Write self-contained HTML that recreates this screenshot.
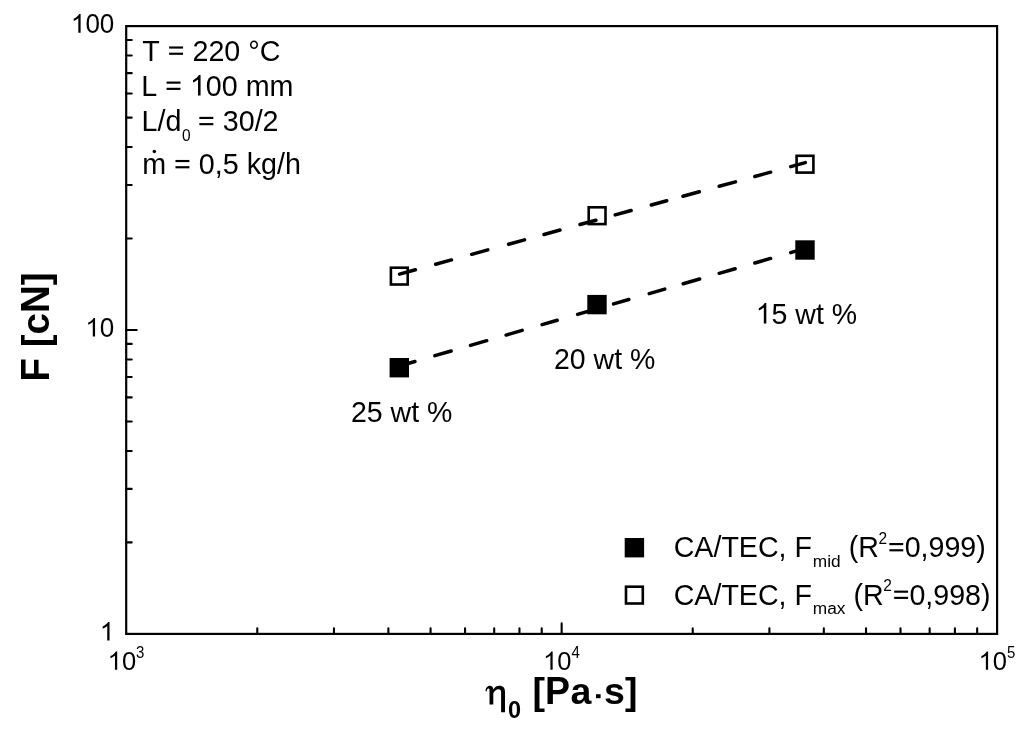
<!DOCTYPE html>
<html><head><meta charset="utf-8"><style>
html,body{margin:0;padding:0;background:#fff;width:1024px;height:733px;overflow:hidden}
svg{display:block;will-change:transform}
text{font-family:"Liberation Sans",sans-serif;fill:#000;font-kerning:none;white-space:pre}
</style></head><body>
<svg width="1024" height="733" viewBox="0 0 1024 733">
<rect width="1024" height="733" fill="#fff"/>
<rect x="126.2" y="26.1" width="870.90" height="607.80" fill="none" stroke="#000" stroke-width="2.2"/>
<path d="M257.28 633.90V628.40M333.96 633.90V628.40M388.37 633.90V628.40M430.57 633.90V628.40M465.05 633.90V628.40M494.20 633.90V628.40M519.45 633.90V628.40M541.72 633.90V628.40M561.65 633.90V623.40M692.73 633.90V628.40M769.41 633.90V628.40M823.82 633.90V628.40M866.02 633.90V628.40M900.50 633.90V628.40M929.65 633.90V628.40M954.90 633.90V628.40M977.17 633.90V628.40M126.20 542.42H131.70M126.20 488.90H131.70M126.20 450.93H131.70M126.20 421.48H131.70M126.20 397.42H131.70M126.20 377.07H131.70M126.20 359.45H131.70M126.20 343.91H131.70M126.20 330.00H136.70M126.20 238.52H131.70M126.20 185.00H131.70M126.20 147.03H131.70M126.20 117.58H131.70M126.20 93.52H131.70M126.20 73.17H131.70M126.20 55.55H131.70M126.20 40.01H131.70" stroke="#000" stroke-width="2.1" stroke-linecap="round" fill="none"/>
<path d="M399.60 274.15L415.40 269.81M435.70 264.23L451.40 259.92M471.70 254.33L487.80 249.91M508.60 244.19L524.50 239.82M544.00 234.46L560.00 230.06M580.00 224.56L595.90 220.19M615.20 214.89L631.10 210.52M651.30 204.96L666.70 200.73M683.00 196.25L699.30 191.77M719.20 186.30L735.50 181.82M754.80 176.51L770.60 172.17M790.70 166.64L805.30 162.63" stroke="#000" stroke-width="3.5" stroke-linecap="round" fill="none"/><path d="M399.30 366.00L414.90 361.48M434.90 355.69L451.10 350.99M470.50 345.37L486.70 340.68M506.10 335.06L522.20 330.40M542.10 324.63L557.20 320.26M577.60 314.35L596.90 308.76M613.60 303.92L628.80 299.51M649.20 293.60L664.70 289.11M683.20 283.75L699.60 279.00M719.20 273.32L735.10 268.72M754.80 263.01L770.60 258.43M790.70 252.61L805.10 248.44" stroke="#000" stroke-width="3.5" stroke-linecap="round" fill="none"/>
<rect x="390.90" y="267.70" width="16.80" height="16.80" fill="none" stroke="#000" stroke-width="2.6"/><rect x="588.70" y="207.30" width="16.80" height="16.80" fill="none" stroke="#000" stroke-width="2.6"/><rect x="796.60" y="155.80" width="16.80" height="16.80" fill="none" stroke="#000" stroke-width="2.6"/><rect x="389.60" y="358.00" width="19.40" height="19.40" fill="#000"/><rect x="587.30" y="294.90" width="19.40" height="19.40" fill="#000"/><rect x="795.30" y="240.30" width="19.40" height="19.40" fill="#000"/>
<path transform="translate(70.92 32.70) scale(0.01270 -0.01270)" d="M763 0H583V1147Q518 1085 412.5 1023Q307 961 223 930V1104Q374 1175 487 1276Q600 1377 647 1466H763Z"/><text transform="translate(85.38 32.70) scale(1 1.04)" font-size="26" >00</text>
<path transform="translate(85.38 336.60) scale(0.01270 -0.01270)" d="M763 0H583V1147Q518 1085 412.5 1023Q307 961 223 930V1104Q374 1175 487 1276Q600 1377 647 1466H763Z"/><text transform="translate(99.84 336.60) scale(1 1.04)" font-size="26" >0</text>
<path transform="translate(99.84 640.50) scale(0.01270 -0.01270)" d="M763 0H583V1147Q518 1085 412.5 1023Q307 961 223 930V1104Q374 1175 487 1276Q600 1377 647 1466H763Z"/>
<path transform="translate(107.70 669.80) scale(0.01245 -0.01245)" d="M763 0H583V1147Q518 1085 412.5 1023Q307 961 223 930V1104Q374 1175 487 1276Q600 1377 647 1466H763Z"/><text transform="translate(121.88 669.80) scale(1 1.04)" font-size="25.5" >0</text>
<text transform="translate(136.06 658.20) scale(1 1.04)" font-size="15" >3</text>
<path transform="translate(543.15 669.80) scale(0.01245 -0.01245)" d="M763 0H583V1147Q518 1085 412.5 1023Q307 961 223 930V1104Q374 1175 487 1276Q600 1377 647 1466H763Z"/><text transform="translate(557.33 669.80) scale(1 1.04)" font-size="25.5" >0</text>
<text transform="translate(571.51 658.20) scale(1 1.04)" font-size="15" >4</text>
<path transform="translate(978.60 669.80) scale(0.01245 -0.01245)" d="M763 0H583V1147Q518 1085 412.5 1023Q307 961 223 930V1104Q374 1175 487 1276Q600 1377 647 1466H763Z"/><text transform="translate(992.78 669.80) scale(1 1.04)" font-size="25.5" >0</text>
<text transform="translate(1006.96 658.20) scale(1 1.04)" font-size="15" >5</text>
<text transform="translate(142.20 60.50) scale(1 1.04)" font-size="28.7" >T</text><rect x="169.11" y="46.45" width="13.94" height="2.15"/><rect x="169.11" y="52.68" width="13.94" height="2.15"/><text transform="translate(192.44 60.50) scale(1 1.04)" font-size="28.7" >220</text><text x="240.32" y="60.50" font-size="28.7" > °</text><text transform="translate(259.77 60.50) scale(1 1.04)" font-size="28.7" >C</text>
<text transform="translate(141.20 95.60) scale(1 1.04)" font-size="28.7" >L</text><rect x="166.54" y="81.55" width="13.94" height="2.15"/><rect x="166.54" y="87.78" width="13.94" height="2.15"/><path transform="translate(189.87 95.60) scale(0.01401 -0.01401)" d="M763 0H583V1147Q518 1085 412.5 1023Q307 961 223 930V1104Q374 1175 487 1276Q600 1377 647 1466H763Z"/><text transform="translate(205.83 95.60) scale(1 1.04)" font-size="28.7" >00</text><text x="237.75" y="95.60" font-size="28.7" > mm</text>
<text transform="translate(141.50 130.90) scale(1 1.04)" font-size="28.7" >L</text><text x="157.46" y="130.90" font-size="28.7" >/d</text>
<text transform="translate(182.10 141.20) scale(1 1.04)" font-size="15.5" >0</text>
<rect x="199.37" y="116.85" width="13.94" height="2.15"/><rect x="199.37" y="123.08" width="13.94" height="2.15"/><text transform="translate(222.70 130.90) scale(1 1.04)" font-size="28.7" >30</text><text x="254.63" y="130.90" font-size="28.7" >/</text><text transform="translate(262.60 130.90) scale(1 1.04)" font-size="28.7" >2</text>
<text x="142.20" y="174.00" font-size="28.7" >m </text><rect x="175.48" y="159.95" width="13.94" height="2.15"/><rect x="175.48" y="166.18" width="13.94" height="2.15"/><text transform="translate(198.82 174.00) scale(1 1.04)" font-size="28.7" >0</text><text x="214.78" y="174.00" font-size="28.7" >,</text><text transform="translate(222.75 174.00) scale(1 1.04)" font-size="28.7" >5</text><text x="238.71" y="174.00" font-size="28.7" > kg/h</text>
<circle cx="154.3" cy="151.4" r="1.75"/>
<text transform="translate(351.00 421.50) scale(1 1.04)" font-size="28.5" >25</text><text x="382.70" y="421.50" font-size="28.5" > w</text><text transform="translate(411.20 421.50) scale(1 1.04)" font-size="28.5" >t</text><text transform="translate(427.04 421.50) scale(1 1.04)" font-size="28.5" >%</text>
<text transform="translate(554.00 369.30) scale(1 1.04)" font-size="28.5" >20</text><text x="585.70" y="369.30" font-size="28.5" > w</text><text transform="translate(614.20 369.30) scale(1 1.04)" font-size="28.5" >t</text><text transform="translate(630.04 369.30) scale(1 1.04)" font-size="28.5" >%</text>
<path transform="translate(755.70 323.50) scale(0.01392 -0.01392)" d="M763 0H583V1147Q518 1085 412.5 1023Q307 961 223 930V1104Q374 1175 487 1276Q600 1377 647 1466H763Z"/><text transform="translate(771.55 323.50) scale(1 1.04)" font-size="28.5" >5</text><text x="787.40" y="323.50" font-size="28.5" > w</text><text transform="translate(815.90 323.50) scale(1 1.04)" font-size="28.5" >t</text><text transform="translate(831.74 323.50) scale(1 1.04)" font-size="28.5" >%</text>
<text transform="translate(673.70 557.00) scale(1 1.04)" font-size="28.6" >CA</text><text x="713.43" y="557.00" font-size="28.6" >/</text><text transform="translate(721.38 557.00) scale(1 1.04)" font-size="28.6" >TEC</text><text x="778.58" y="557.00" font-size="28.6" >, </text><text transform="translate(794.47 557.00) scale(1 1.04)" font-size="28.6" >F</text><text x="812.84" y="566.60" font-size="17.3">mid</text><text x="840.71" y="557.00" font-size="28.6" > (</text><text transform="translate(858.18 557.00) scale(1 1.04)" font-size="28.6" >R</text><text transform="translate(878.44 543.60) scale(1 1.04)" font-size="15.5" >2</text><rect x="889.35" y="543.00" width="13.90" height="2.15"/><rect x="889.35" y="549.21" width="13.90" height="2.15"/><text transform="translate(904.66 557.00) scale(1 1.04)" font-size="28.6" >0</text><text x="920.57" y="557.00" font-size="28.6" >,</text><text transform="translate(928.51 557.00) scale(1 1.04)" font-size="28.6" >999</text><text x="976.23" y="557.00" font-size="28.6" >)</text>
<text transform="translate(673.70 604.60) scale(1 1.04)" font-size="28.6" >CA</text><text x="713.43" y="604.60" font-size="28.6" >/</text><text transform="translate(721.38 604.60) scale(1 1.04)" font-size="28.6" >TEC</text><text x="778.58" y="604.60" font-size="28.6" >, </text><text transform="translate(794.47 604.60) scale(1 1.04)" font-size="28.6" >F</text><text x="812.84" y="614.20" font-size="17.3">max</text><text x="845.52" y="604.60" font-size="28.6" > (</text><text transform="translate(862.99 604.60) scale(1 1.04)" font-size="28.6" >R</text><text transform="translate(883.24 591.20) scale(1 1.04)" font-size="15.5" >2</text><rect x="894.16" y="590.60" width="13.90" height="2.15"/><rect x="894.16" y="596.81" width="13.90" height="2.15"/><text transform="translate(909.47 604.60) scale(1 1.04)" font-size="28.6" >0</text><text x="925.37" y="604.60" font-size="28.6" >,</text><text transform="translate(933.32 604.60) scale(1 1.04)" font-size="28.6" >998</text><text x="981.04" y="604.60" font-size="28.6" >)</text>
<rect x="624.70" y="538.00" width="19.4" height="19.4" fill="#000"/>
<rect x="626.00" y="586.70" width="16.80" height="16.80" fill="none" stroke="#000" stroke-width="2.6"/>
<g transform="translate(48.5 381.5) rotate(-90)"><text transform="translate(0.00 0.00) scale(1 1.04)" font-size="38.5" font-weight="bold">F</text><text x="23.52" y="0.00" font-size="38.5" font-weight="bold"> [c</text><text transform="translate(68.45 0.00) scale(1 1.04)" font-size="38.5" font-weight="bold">N</text><text x="96.25" y="0.00" font-size="38.5" font-weight="bold">]</text></g>
<path d="M485.5 691.2C485.7 688.2 487.3 685.8 489.8 685.8C492 685.8 493.3 687.2 493.3 689.8L493.3 704.5L489.5 704.5L489.5 690C489.5 688.9 489 688.4 488.4 688.4C487.4 688.4 486.9 689.5 486.8 691.2ZM492.6 691C494 687.5 496.3 685.8 499.3 685.8C503.3 685.8 505 688 505 692L505 712.2L501.1 712.2L501.1 692.5C501.1 690 500.2 689.2 498.6 689.2C496.3 689.2 494.3 690.8 493.3 693.5Z"/>
<text x="508" y="717.6" font-size="23.5" font-weight="bold">0</text>
<text x="532.50" y="704.40" font-size="37.5" font-weight="bold">[</text><text transform="translate(544.99 704.40) scale(1 1.04)" font-size="37.5" font-weight="bold">P</text><text x="570.60" y="704.40" font-size="37.5" font-weight="bold">a</text><text x="604.04" y="704.40" font-size="37.5" font-weight="bold">s]</text><rect x="596" y="694.2" width="4.6" height="4" fill="#000"/>
</svg>
</body></html>
